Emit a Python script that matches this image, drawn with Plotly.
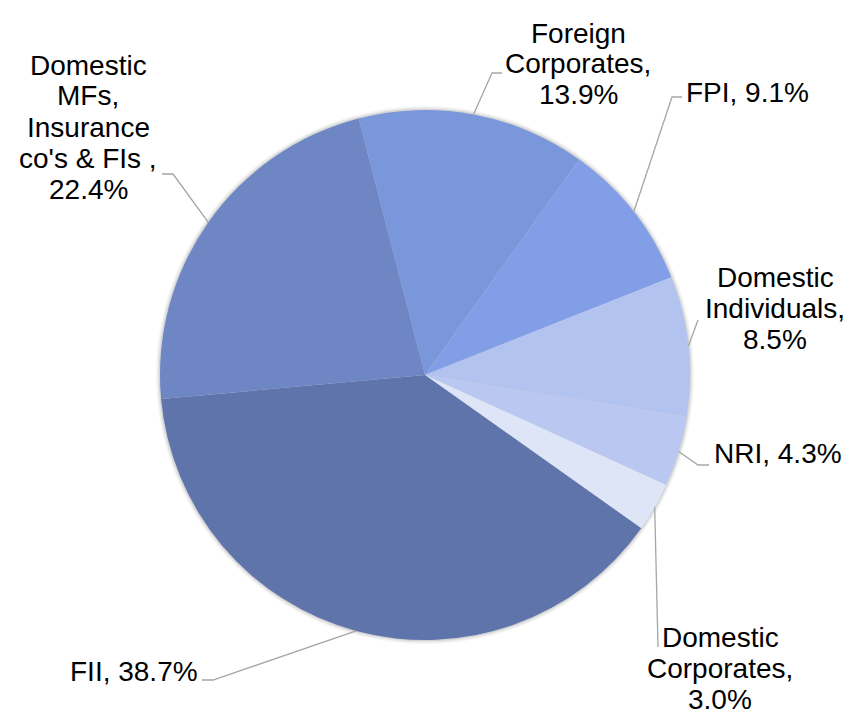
import math
import plotly.graph_objects as go

# ---- data ----
labels = ["Foreign Corporates", "FPI", "Domestic Individuals", "NRI",
          "Domestic Corporates", "FII", "Domestic MFs, Insurance co's & FIs "]
values = [13.9, 9.1, 8.5, 4.3, 3.0, 38.7, 22.4]
colors = ["#7B97DC", "#819EE6", "#B3C3EF", "#BAC8F1", "#DEE5F7", "#5F74AB", "#6E87C4"]
# label text lines (percentage appended from values)
name_lines = [["Foreign", "Corporates,"], ["FPI,"], ["Domestic", "Individuals,"], ["NRI,"],
              ["Domestic", "Corporates,"], ["FII,"], ["Domestic", "MFs,", "Insurance", "co's & FIs ,"]]
pct_same_line = [False, True, False, True, False, True, False]

# ---- layout constants (pixels, in window coordinates) ----
WIN_W, WIN_H = 856, 728
BODY_MARGIN = 8          # default page margin around the plot div
W, H = WIN_W - 2 * BODY_MARGIN, WIN_H - 2 * BODY_MARGIN
CX, CY, R = 425, 375, 265
ROTATION = -14.5
FONT_SIZE = 28
LINE_H = 31
# label block: (center x, first line center y)
label_pos = [(578, 33), (747, 93), (775, 277), (778, 453), (720, 637), (134, 671), (88, 65)]
# leader line points from label side toward the pie (edge point appended)
leader_pts = [[(502, 73), (492, 73)], [(682, 97), (672, 97)], [(698, 320)],
              [(709, 465), (698, 465)], [(658, 647)], [(202, 680), (213, 680)],
              [(162, 174), (173, 174)]]


def px(x):
    return (x - BODY_MARGIN) / W


def py(y):
    return 1 - (y - BODY_MARGIN) / H


fig = go.Figure()
fig.add_trace(go.Pie(
    labels=labels, values=values, sort=False, direction="clockwise",
    rotation=ROTATION, textinfo="none", hoverinfo="label+percent",
    marker=dict(colors=colors, line=dict(width=0)),
    domain=dict(x=[px(CX - R), px(CX + R)], y=[py(CY + R), py(CY - R)]),
    showlegend=False,
))

shapes = []
# soft shadow behind the pie
for dr, a in [(4, 0.04), (2.5, 0.06), (1.2, 0.08)]:
    shapes.append(dict(type="circle", xref="paper", yref="paper", layer="below",
                       x0=px(CX - R - dr), x1=px(CX + R + dr),
                       y0=py(CY + R + dr), y1=py(CY - R - dr),
                       fillcolor=f"rgba(0,0,0,{a})", line=dict(width=0)))

total = sum(values)
cum = 0.0
annotations = []
for i, v in enumerate(values):
    mid = ROTATION + (cum + v / 2) / total * 360
    cum += v
    ex = CX + R * math.sin(math.radians(mid))
    ey = CY - R * math.cos(math.radians(mid))
    pts = leader_pts[i] + [(ex, ey)]
    path = "M " + " L ".join(f"{px(x)},{py(y)}" for x, y in pts)
    shapes.append(dict(type="path", xref="paper", yref="paper", path=path,
                       line=dict(color="#A6A6A6", width=1.3), layer="above"))

    pct = f"{v:.1f}%"
    lines = list(name_lines[i])
    if pct_same_line[i]:
        lines[-1] = lines[-1] + " " + pct
    else:
        lines.append(pct)
    lx, ly = label_pos[i]
    for k, t in enumerate(lines):
        annotations.append(dict(text=t, x=px(lx), y=py(ly + k * LINE_H), xref="paper", yref="paper",
                                xanchor="center", yanchor="middle", showarrow=False,
                                font=dict(family="Liberation Sans, Arial, sans-serif",
                                          size=FONT_SIZE, color="#000000")))

fig.update_layout(
    width=W, height=H, margin=dict(l=0, r=0, t=0, b=0),
    paper_bgcolor="white", plot_bgcolor="white",
    shapes=shapes, annotations=annotations,
)

fig.write_html("out.html")
